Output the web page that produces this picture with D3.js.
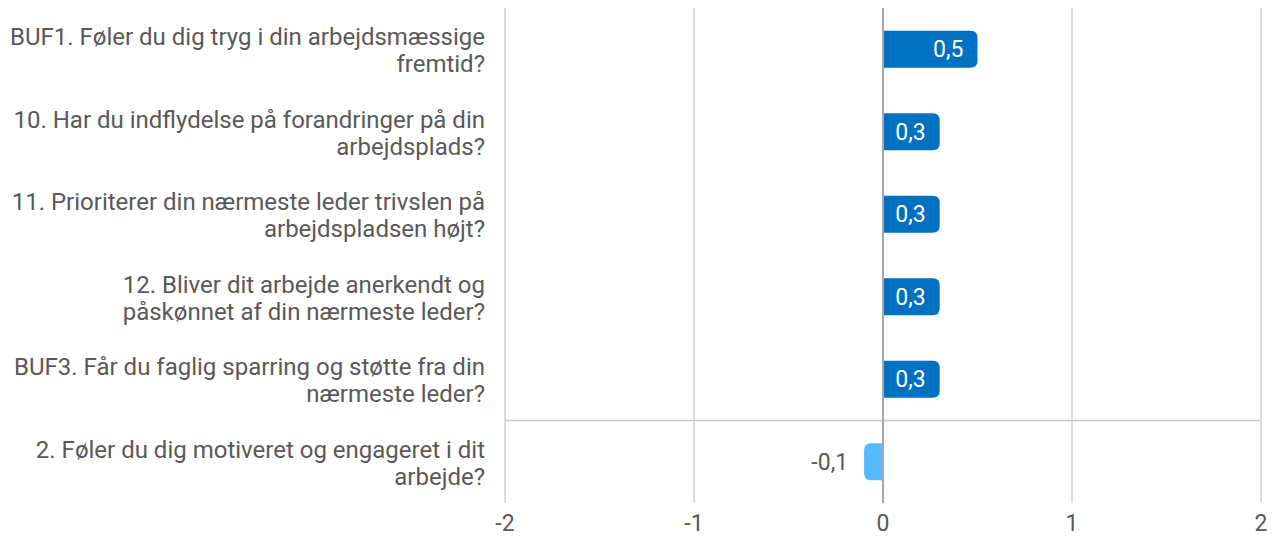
<!DOCTYPE html>
<html><head><meta charset="utf-8">
<script src="https://cdn.jsdelivr.net/npm/d3@7"></script>
<style>body{margin:0;background:#fff;} text{font-family:Roboto,sans-serif;}</style>
</head><body><svg id="c" width="1274" height="537"></svg>
<script>
const categories = [
  ["BUF1. Føler du dig tryg i din arbejdsmæssige","fremtid?"],
  ["10. Har du indflydelse på forandringer på din","arbejdsplads?"],
  ["11. Prioriterer din nærmeste leder trivslen på","arbejdspladsen højt?"],
  ["12. Bliver dit arbejde anerkendt og","påskønnet af din nærmeste leder?"],
  ["BUF3. Får du faglig sparring og støtte fra din","nærmeste leder?"],
  ["2. Føler du dig motiveret og engageret i dit","arbejde?"]
];
const values = [0.5, 0.3, 0.3, 0.3, 0.3, -0.1];
const valueLabels = ["0,5","0,3","0,3","0,3","0,3","-0,1"];
const ticks = [-2,-1,0,1,2];
const tickLabels = ["-2","-1","0","1","2"];

const svg = d3.select("#c");
const x = d3.scaleLinear().domain([-2,2]).range([505,1261]);
const y = d3.scaleBand().domain(d3.range(categories.length)).range([8,503]).paddingInner(0.55).paddingOuter(0.275);
const row = d3.scaleBand().domain(d3.range(categories.length)).range([8,503]);

// grid
svg.selectAll("line.g").data(ticks).enter().append("line")
  .attr("x1",d=>x(d)).attr("x2",d=>x(d)).attr("y1",8).attr("y2",503)
  .attr("stroke",d=>d===0?"#a6a6a6":"#c8c8c8").attr("stroke-width",d=>d===0?2:1.3);
// separator
svg.append("line").attr("x1",x(-2)).attr("x2",x(2)).attr("y1",row(5)).attr("y2",row(5))
  .attr("stroke","#c8c8c8").attr("stroke-width",1.3);

// bars with rounded outer corners
function barPath(v,i){
  const y0=y(i), h=y.bandwidth(), r=7;
  const x0=x(0), x1=x(v);
  if(v>=0){
    return `M${x0+1},${y0}H${x1-r}Q${x1},${y0} ${x1},${y0+r}V${y0+h-r}Q${x1},${y0+h} ${x1-r},${y0+h}H${x0+1}Z`;
  } else {
    return `M${x0},${y0}H${x1+r}Q${x1},${y0} ${x1},${y0+r}V${y0+h-r}Q${x1},${y0+h} ${x1+r},${y0+h}H${x0}Z`;
  }
}
svg.selectAll("path.b").data(values).enter().append("path")
  .attr("d",(d,i)=>barPath(d,i))
  .attr("fill",d=>d>=0?"#0070c0":"#56b8ff");
// redraw zero line over bars
svg.append("line").attr("x1",x(0)).attr("x2",x(0)).attr("y1",8).attr("y2",503)
  .attr("stroke","#a6a6a6").attr("stroke-width",2);

// value labels
svg.selectAll("text.v").data(values).enter().append("text")
  .attr("x",d=>d>=0?x(d)-14:x(d)-16)
  .attr("y",(d,i)=>y(i)+y.bandwidth()/2+8)
  .attr("text-anchor","end")
  .attr("font-size",23)
  .attr("fill",d=>d>=0?"#fff":"#595959")
  .text((d,i)=>valueLabels[i]);

// category labels
const cl = svg.selectAll("text.c").data(categories).enter().append("text")
  .attr("text-anchor","end").attr("font-size",24).attr("fill","#595959");
cl.each(function(d,i){
  const t=d3.select(this);
  const cy=row(i)+row.bandwidth()/2;
  d.forEach((line,j)=>{
    t.append("tspan").attr("x",485).attr("y",cy-4+j*27).text(line);
  });
});

// tick labels
svg.selectAll("text.t").data(ticks).enter().append("text")
  .attr("x",d=>x(d)).attr("y",531).attr("text-anchor","middle")
  .attr("font-size",23).attr("fill","#595959").text((d,i)=>tickLabels[i]);
</script></body></html>
